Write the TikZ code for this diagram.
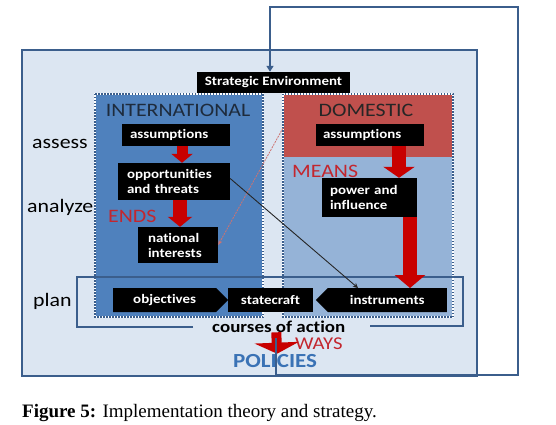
\documentclass[tikz,border=0pt]{standalone}
\usepackage{fontspec}
\setmainfont{Liberation Serif}
\setsansfont[FakeStretch=1.15, Ligatures=NoCommon]{Carlito}
\usetikzlibrary{positioning,arrows.meta,shapes.symbols}
\definecolor{paneBg}{HTML}{DCE6F2}
\definecolor{frameBlue}{HTML}{3B5E8C}
\definecolor{intlBlue}{HTML}{4F81BD}
\definecolor{meansBlue}{HTML}{95B3D7}
\definecolor{domRed}{HTML}{C0504D}
\definecolor{flowRed}{HTML}{C80000}
\definecolor{labelRed}{HTML}{C3262E}
\definecolor{policyBlue}{HTML}{3A72B5}
\definecolor{headInk}{HTML}{1E2B3C}
\newcommand{\bxfont}{\sffamily\bfseries\fontsize{13}{15}\selectfont}
\newcommand{\lblfont}{\sffamily\fontsize{19}{22}\selectfont}
\tikzset{
  box/.style={rectangle, fill=black, text=white, font=\bxfont, inner sep=0pt, minimum height=22},
  leftBox/.style={box, align=left, text width=#1},
  signalBox/.style={signal, fill=black, text=white, font=\bxfont, inner sep=0pt, minimum height=24},
  lbl/.style={inner sep=0pt, font=\lblfont},
  panelEdge/.style={draw=white, line width=1.5pt, postaction={draw=frameBlue, line width=1.5pt, dash pattern=on 1.5pt off 1.5pt}},
  bracketLine/.style={draw=frameBlue, line width=1.8pt},
  loopLine/.style={draw=frameBlue, line width=1.8pt, -{Triangle[width=7pt,length=6pt]}},
  redArrow/.style={draw=flowRed, line width=#1},
  influence/.style={-{Stealth[length=5pt,width=5pt]}, draw=black!85, line width=0.9pt},
  hint/.style={-{Stealth[length=5pt,width=4pt]}, draw=domRed!80, line width=0.8pt, dash pattern=on 2pt off 1pt}
}
\begin{document}
\begin{tikzpicture}[x=1pt,y=-1pt]
  \useasboundingbox (0,0) rectangle (556,425);
  % outer frame
  \fill[paneBg] (22,50) rectangle (477,376);
  \draw[frameBlue, line width=1.8pt] (22,50) rectangle (477,376);
  % stage labels
  \node[lbl, anchor=base west] (assess) at (32,148) {assess};
  \node[lbl, anchor=base west] (analyze) at (27,212) {analyze};
  \node[lbl, anchor=base west] (plan) at (33,306) {plan};
  % panels
  \fill[intlBlue] (95,94) rectangle (263,317);
  \draw[panelEdge] (95,94) rectangle (263,317);
  \fill[meansBlue] (283,94) rectangle (453,317);
  \fill[domRed] (283,94) rectangle (453,157);
  \draw[panelEdge] (283,94) rectangle (453,317);
  \node[lbl, anchor=base, text=headInk] (intl) at (178,117) {INTERNATIONAL};
  \node[lbl, anchor=base, text=black!85] (dom) at (366,117) {DOMESTIC};
  \node[lbl, anchor=base west, text=labelRed] (ends) at (108,222) {ENDS};
  \node[lbl, anchor=base west, text=labelRed] (means) at (292,177) {MEANS};
  % boxes
  \node[box, minimum width=153, minimum height=21] (env) at (273.5,82.5) {Strategic Environment};
  \node[leftBox=92, inner xsep=8] (assumI) at (176,135) {assumptions};
  \node[leftBox=94, inner xsep=9, minimum height=37] (oppT) at (174,181.5) {opportunities\\and threats};
  \node[leftBox=60, inner xsep=10, minimum height=36] (natInt) at (178,245) {national\\interests};
  \node[leftBox=94, inner xsep=7] (assumD) at (370,135) {assumptions};
  \node[leftBox=79, inner xsep=8, minimum height=39] (power) at (369.5,197.5) {power and\\influence};
  % plan row
  \draw[bracketLine] (193,327) -| (77,277) -| (463,326) -- (370,326);
  \node[signalBox, signal to=east, minimum width=115, anchor=west] (obj) at (113,300) {objectives};
  \node[box, minimum width=85, minimum height=24] (craft) at (270.5,300) {statecraft};
  \node[signalBox, signal to=west, minimum width=131, anchor=east] (instr) at (447,300) {instruments};
  \coordinate (instrIn) at (358,288);
  % red flows
  \draw[redArrow=11pt, -{Triangle[width=21pt,length=9pt]}] ([xshift=6pt]assumI.south) -- ([xshift=8pt]oppT.north);
  \draw[redArrow=14pt, -{Triangle[width=24pt,length=10pt]}] ([xshift=6pt]oppT.south) -- ([xshift=2pt]natInt.north);
  \draw[redArrow=14pt, -{Triangle[width=31pt,length=11pt]}] ([xshift=29pt]assumD.south) -- ([xshift=29.5pt]power.north);
  \draw[redArrow=14pt, -{Triangle[width=30pt,length=13pt]}] ([xshift=40.5pt]power.south) -- (instrIn -| 410,0);
  % cross links
  \coordinate (domIn) at (283,128);
  \draw[hint] (domIn) -- (natInt.east);
  \draw[influence] ([yshift=3pt]oppT.east) -- (instrIn);
  % outcome
  \node[lbl, anchor=base west, font=\sffamily\bfseries\fontsize{16.5}{20}\selectfont] (coa) at (212,332) {courses of action};
  \node[lbl, anchor=base west, font=\sffamily\bfseries\fontsize{20}{24}\selectfont, text=policyBlue] (pol) at (233,367) {POLICIES};
  \node[lbl, anchor=base west, font=\sffamily\fontsize{18}{22}\selectfont, text=labelRed] (ways) at (295,349) {WAYS};
  \draw[redArrow=10pt, -{Triangle[width=44pt,length=11pt]}] ([xshift=-2.5pt]coa.south) -- ([xshift=2pt]pol.north);
  % feedback loop
  \coordinate (loopBR) at (518,375);
  \coordinate (loopTR) at (518,7);
  \coordinate (loopTL) at (270,7);
  \draw[loopLine, shorten <=6pt] ([xshift=-2.5pt]coa.south) |- (loopBR) -- (loopTR) -- (loopTL) -- (loopTL |- env.north);
  % caption
  \node[anchor=base west, inner sep=0pt, font=\rmfamily\fontsize{19}{22}\selectfont] (caption) at (22,417) {\textbf{Figure 5:} Implementation theory and strategy.};
\end{tikzpicture}
\end{document}
